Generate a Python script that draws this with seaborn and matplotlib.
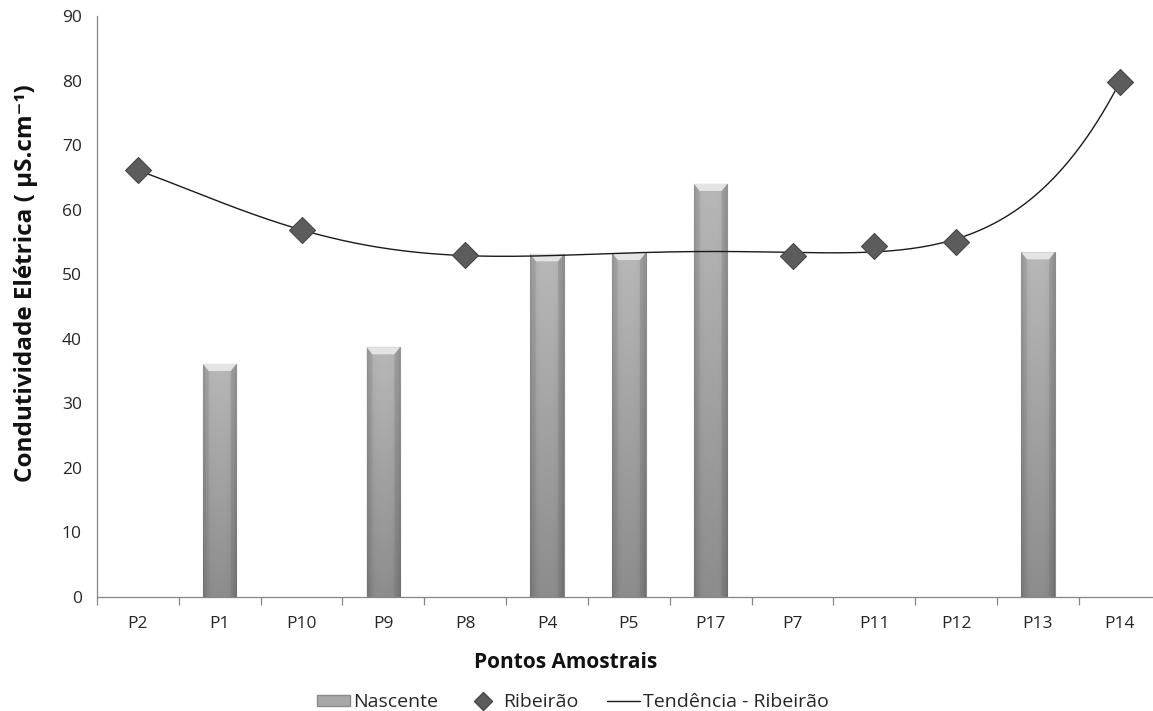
import numpy as np
import pandas as pd
import matplotlib
matplotlib.use("Agg")
import matplotlib.pyplot as plt
from matplotlib.patches import Polygon, Patch
from matplotlib.lines import Line2D
import seaborn as sns

# Sampling points, in display order
pontos = ["P2", "P1", "P10", "P9", "P8", "P4", "P5", "P17", "P7", "P11", "P12", "P13", "P14"]
# Spring samples (bars); None where the point is a stream sample
nascente = [None, 36.1, None, 38.7, None, 53.1, 53.3, 64.0, None, None, None, 53.4, None]
# Stream samples (diamonds)
ribeirao = [66.1, None, 56.8, None, 53.0, None, None, None, 52.8, 54.4, 55.0, None, 79.8]

y_ticks = [0, 10, 20, 30, 40, 50, 60, 70, 80, 90]

sns.set_theme(style="white")
plt.rcParams["font.family"] = ["Open Sans", "DejaVu Sans"]

df = pd.DataFrame({"Ponto": pontos,
                   "Nascente": pd.array(nascente, dtype="Float64"),
                   "Ribeirao": pd.array(ribeirao, dtype="Float64")})
df["idx"] = np.arange(len(pontos))

fig = plt.figure(figsize=(11.53, 7.11), dpi=100)
ax = fig.add_axes([0.0841, 0.1603, 0.9226, 0.8172])

# Bars
sns.barplot(data=df.astype({"Nascente": float}), x="Ponto", y="Nascente", order=pontos,
            color="#a8a8a8", width=0.41, ax=ax, zorder=2, saturation=1)

# Shaded fill for each bar: lighter at the top, darker toward the sides and bottom
nx, ny = 60, 200
xs = np.linspace(0, 1, nx)
ys = np.linspace(0, 1, ny)[:, None]
edge = np.clip(np.abs(xs - 0.5) * 2, 0, 1) ** 4
shade = (0.55 + 0.17 * ys) - 0.12 * edge[None, :]
for p in list(ax.patches):
    h = p.get_height()
    if not np.isfinite(h) or h <= 0:
        continue
    x0, w = p.get_x(), p.get_width()
    p.set_edgecolor("#8a8a8a")
    p.set_linewidth(0.8)
    im = ax.imshow(shade, cmap="gray", vmin=0, vmax=1, origin="lower",
                   extent=[x0, x0 + w, 0, h], aspect="auto", zorder=2.1,
                   interpolation="bilinear")
    im.set_clip_path(p)
    # bevelled cap and side shading
    cap = 1.1
    inset = w * 0.17
    ax.add_patch(Polygon([[x0, h], [x0 + w, h], [x0 + w - inset, h - cap], [x0 + inset, h - cap]],
                         closed=True, facecolor="#e4e4e4", edgecolor="none", zorder=2.2))
    ax.add_patch(Polygon([[x0, h], [x0 + inset, h - cap], [x0 + inset, 0], [x0, 0]],
                         closed=True, facecolor="#808080", edgecolor="none", alpha=0.25, zorder=2.2))
    ax.add_patch(Polygon([[x0 + w, h], [x0 + w - inset, h - cap], [x0 + w - inset, 0], [x0 + w, 0]],
                         closed=True, facecolor="#707070", edgecolor="none", alpha=0.3, zorder=2.2))

# Polynomial trend of the stream samples
rib = df.dropna(subset=["Ribeirao"]).astype({"Ribeirao": float})
coef = np.polyfit(rib["idx"], rib["Ribeirao"], 5)
xt = np.linspace(rib["idx"].min(), rib["idx"].max(), 400)
ax.plot(xt, np.polyval(coef, xt), color="#1a1a1a", lw=1.0, zorder=3)

# Stream sample markers
sns.scatterplot(data=rib, x="idx", y="Ribeirao", marker="D", s=175, color="#5c5c5c",
                edgecolor="#474747", linewidth=0.8, ax=ax, zorder=4, legend=False)

ax.set_xlim(-0.5, len(pontos) - 0.5)
ax.set_ylim(0, 90)
ax.set_yticks(y_ticks)
ax.set_yticklabels([str(v) for v in y_ticks], fontsize=12.5, color="#262626")
ax.set_xticks(np.arange(len(pontos)))
ax.set_xticklabels(pontos, fontsize=12.5, color="#262626")
ax.set_xticks(np.arange(len(pontos) + 1) - 0.5, minor=True)
ax.tick_params(axis="x", which="major", length=0, pad=14)
ax.tick_params(axis="x", which="minor", length=6, color="#868686", width=0.9, direction="out",
               bottom=True)
ax.tick_params(axis="y", which="major", length=6, color="#868686", width=0.9, direction="out", pad=5)

for s in ["top", "right"]:
    ax.spines[s].set_visible(False)
for s in ["left", "bottom"]:
    ax.spines[s].set_color("#868686")
    ax.spines[s].set_linewidth(0.9)

ax.set_xlabel("Pontos Amostrais", fontsize=15, fontweight="bold", color="#111111")
ax.set_ylabel("Condutividade Elétrica ( µS.cm⁻¹)", fontsize=17.5, fontweight="bold",
              color="#111111")
ax.xaxis.set_label_coords(0.441, -0.094)
ax.yaxis.set_label_coords(-0.055, 0.54)

handles = [
    Patch(facecolor="#a8a8a8", edgecolor="#8a8a8a", label="Nascente"),
    Line2D([], [], marker="D", linestyle="none", markersize=9, markerfacecolor="#5c5c5c",
           markeredgecolor="#474747", label="Ribeirão"),
    Line2D([], [], color="#1a1a1a", lw=1.0, label="Tendência - Ribeirão"),
]
fig.legend(handles=handles, loc="lower center", bbox_to_anchor=(0.497, -0.025), ncol=3,
           frameon=False, fontsize=14, handlelength=1.7, handleheight=0.55,
           handletextpad=0.15, columnspacing=1.5)

fig.savefig("out.png", dpi=100)
